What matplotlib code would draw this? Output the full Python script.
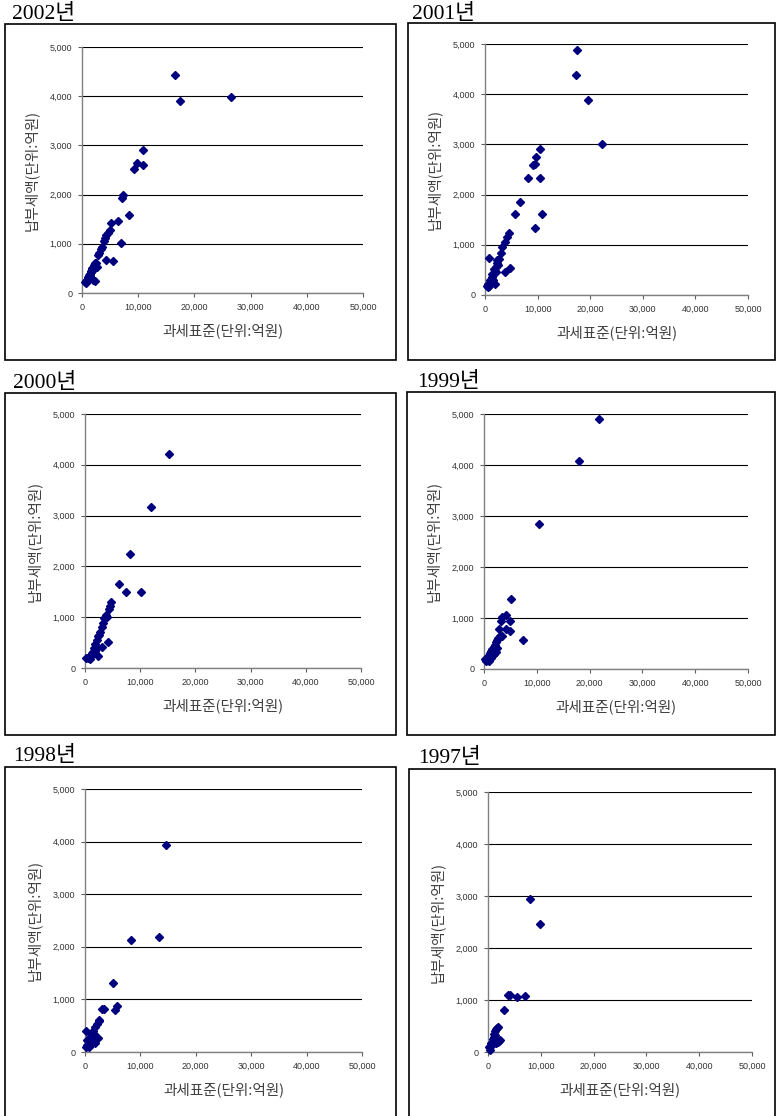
import matplotlib
matplotlib.use("Agg")
import matplotlib.pyplot as plt
from matplotlib.patches import Rectangle
from matplotlib.ticker import FuncFormatter

plt.rcParams['font.family'] = ['Noto Sans CJK KR', 'DejaVu Sans']

years = ['2002년', '2001년', '2000년', '1999년', '1998년', '1997년']
x_label = '과세표준(단위:억원)'
y_label = '납부세액(단위:억원)'
x_ticks = [0, 10000, 20000, 30000, 40000, 50000]
y_ticks = [0, 1000, 2000, 3000, 4000, 5000]

# 과세표준 / 납부세액 (억원)
x02 = [16600, 17500, 26500, 10900, 10900, 9800, 9250, 7350, 7100, 8300, 6400, 5200, 4950, 4650,
       4350, 4050, 3850, 6900, 3550, 3300, 3100, 2850, 4300, 5450, 2400, 2100, 2700, 1800, 1550,
       1350, 1100, 850, 600, 1950, 2300, 700, 950, 1200, 1450, 1650, 2000, 2250, 2550, 1000, 1300,
       800, 1500, 1700]
y02 = [4440, 3900, 3990, 2900, 2610, 2650, 2530, 2000, 1930, 1590, 1460, 1430, 1280, 1220,
       1170, 1110, 1060, 1020, 940, 890, 820, 770, 680, 650, 610, 570, 530, 500, 440,
       390, 330, 270, 230, 260, 250, 210, 240, 300, 350, 420, 460, 560, 600, 280, 360,
       250, 380, 480]

x01 = [17550, 17300, 19500, 22300, 10500, 9750, 9500, 9200, 8250, 10500, 6700, 5700, 10750, 9500,
       4550, 4250, 3800, 3300, 2950, 2650, 2350, 2100, 1850, 1600, 1350, 950, 650, 350, 700, 3750,
       4750, 1900, 2200, 2500, 1500, 1100, 800, 500, 1300, 1700, 2000]
y01 = [4890, 4390, 3890, 3010, 2910, 2740, 2610, 2580, 2340, 2340, 1860, 1610, 1610, 1340,
       1240, 1160, 1060, 950, 830, 720, 640, 560, 480, 420, 350, 290, 220, 170, 740, 460,
       540, 220, 700, 600, 300, 240, 180, 150, 420, 510, 450]

x00 = [15300, 11950, 8200, 6150, 7450, 10150, 4700, 4550, 4350, 3800, 3450, 3300, 3050, 2700,
       2400, 2100, 1850, 1600, 1400, 1050, 600, 100, 4200, 3000, 2400, 1200, 800, 1800, 2200,
       1500, 2600, 900, 3900]
y00 = [4210, 3160, 2250, 1650, 1490, 1490, 1290, 1230, 1160, 1040, 980, 880, 800, 710,
       630, 550, 470, 390, 320, 260, 190, 190, 520, 410, 240, 300, 220, 330, 400,
       270, 640, 170, 1010]

x99 = [21700, 17900, 10450, 5100, 4150, 3450, 4900, 3300, 2850, 4150, 4850, 3500, 7350, 100,
       3000, 2700, 2450, 2200, 2000, 1800, 1600, 1400, 1200, 1000, 800, 600, 400, 2300, 1900,
       1700, 2500, 1300, 900]
y99 = [4900, 4080, 2850, 1370, 1050, 1010, 950, 950, 780, 780, 750, 640, 575, 190,
       640, 600, 560, 520, 480, 440, 400, 360, 310, 270, 230, 190, 150, 340, 300,
       280, 420, 210, 160]

x98 = [14550, 8300, 13350, 5050, 3150, 3350, 5350, 5850, 100, 2450, 2100, 1800, 1500, 1200,
       900, 2350, 600, 300, 200, 800, 1800, 1100, 1400, 700, 400, 1000, 2600, 1600]
y98 = [3930, 2120, 2190, 1320, 820, 820, 800, 880, 400, 580, 530, 470, 400, 340,
       280, 270, 200, 130, 90, 90, 180, 200, 260, 140, 230, 160, 600, 350]

x97 = [8000, 9800, 3800, 4100, 5450, 6950, 3100, 1850, 1550, 1350, 1200, 1100, 2050, 1500,
       750, 150, 450, 1050, 1650, 900, 600, 300, 1300, 1800, 2200]
y97 = [2950, 2460, 1100, 1100, 1060, 1080, 800, 480, 440, 400, 350, 290, 220, 170,
       130, 90, 40, 200, 460, 250, 180, 110, 330, 200, 240]

xs = [x02, x01, x00, x99, x98, x97]
ys = [y02, y01, y00, y99, y98, y97]

W, H = 777, 1116
# pixel layout: axes (left, right, top, bottom), box (left, top, right, bottom), year label (x, y)
axes_px = [(82, 363, 47, 293), (485, 748, 44, 295),
           (85, 361, 414, 668), (484, 748, 414, 669),
           (85, 362, 789, 1052), (488, 752, 792, 1052)]
box_px = [(5, 24, 396, 360), (408, 23, 775, 360),
          (5, 393, 396, 735), (407, 392, 775, 735),
          (5, 767, 396, 1125), (409, 769, 775, 1125)]
year_px = [(12, 14), (412, 14), (13, 383), (417, 382), (13, 756), (418, 758)]

fig = plt.figure(figsize=(W / 100, H / 100), dpi=100)

for i in range(6):
    bl, bt, br, bb = box_px[i]
    fig.patches.append(Rectangle((bl / W, 1 - bb / H), (br - bl) / W, (bb - bt) / H,
                                 transform=fig.transFigure, fill=False,
                                 edgecolor='black', lw=1.2))
    yx, yy = year_px[i]
    fig.text(yx / W, 1 - yy / H, years[i], fontsize=15.5, va='center', ha='left',
             family=['Liberation Serif', 'Noto Sans CJK KR'])

    l, r, t, b = axes_px[i]
    ax = fig.add_axes([l / W, 1 - b / H, (r - l) / W, (b - t) / H])
    ax.plot(xs[i], ys[i], ls='none', marker='D', ms=4.5, color='#00007f', clip_on=False, zorder=3)
    ax.set_xlim(0, 50000)
    ax.set_ylim(0, 5000)
    ax.set_xticks(x_ticks)
    ax.set_yticks(y_ticks)
    fmt = FuncFormatter(lambda v, p: f'{int(v):,}')
    ax.xaxis.set_major_formatter(fmt)
    ax.yaxis.set_major_formatter(fmt)
    ax.yaxis.grid(True, color='black', lw=0.8)
    ax.set_axisbelow(True)
    for s in ['top', 'right']:
        ax.spines[s].set_visible(False)
    for s in ['left', 'bottom']:
        ax.spines[s].set_color('#808080')
        ax.spines[s].set_linewidth(1.0)
    ax.tick_params(length=3, width=0.8, color='#606060', labelsize=6.5,
                   labelcolor='#333333', pad=4)
    for lab in ax.get_xticklabels() + ax.get_yticklabels():
        lab.set_family(['Liberation Sans', 'DejaVu Sans'])
    wpx, hpx = r - l, b - t
    ax.set_xlabel(x_label, fontsize=10.5, color='#404040')
    ax.xaxis.set_label_coords(0.5, -38 / hpx)
    ax.xaxis.label.set_va('center')
    ax.set_ylabel(y_label, fontsize=10.5, color='#404040')
    ax.yaxis.set_label_coords(-51 / wpx, 0.5)
    ax.yaxis.label.set_va('center')

fig.savefig('out.png', dpi=100)
